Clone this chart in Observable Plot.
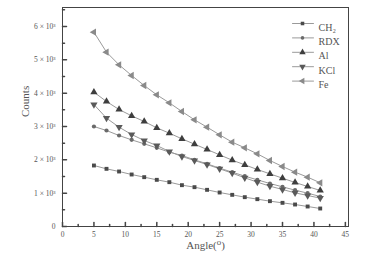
<!DOCTYPE html>
<html>
<head>
<meta charset="utf-8">
<script src="https://cdn.jsdelivr.net/npm/d3@7"></script>
<script src="https://cdn.jsdelivr.net/npm/@observablehq/plot@0.6"></script>
<style>
  html, body { margin: 0; padding: 0; background: #fff; }
  #chart { width: 373px; height: 257px; }
</style>
</head>
<body>
<div id="chart"></div>
<script>
// ---- data ----
const angles = [5, 7, 9, 11, 13, 15, 17, 19, 21, 23, 25, 27, 29, 31, 33, 35, 37, 39, 41];
const seriesNames = ["CH₂", "RDX", "Al", "KCl", "Fe"];
const ch2 = [1830, 1730, 1650, 1560, 1480, 1400, 1330, 1240, 1180, 1100, 1020, 950, 880, 820, 760, 710, 660, 600, 540];
const rdx = [3000, 2880, 2730, 2600, 2480, 2360, 2230, 2130, 2000, 1880, 1750, 1630, 1510, 1400, 1290, 1190, 1090, 1000, 900];
const al  = [4030, 3750, 3510, 3320, 3150, 2960, 2800, 2630, 2470, 2310, 2150, 1990, 1850, 1710, 1580, 1450, 1320, 1200, 1080];
const kcl = [3660, 3250, 2980, 2760, 2580, 2430, 2250, 2100, 1980, 1860, 1730, 1600, 1460, 1330, 1210, 1110, 1010, 930, 850];
const fe  = [5830, 5230, 4850, 4530, 4230, 3950, 3710, 3450, 3200, 2980, 2750, 2530, 2360, 2180, 1980, 1800, 1630, 1480, 1310];
const xTicks = [0, 5, 10, 15, 20, 25, 30, 35, 40, 45];
const xMinor = [2.5, 7.5, 12.5, 17.5, 22.5, 27.5, 32.5, 37.5, 42.5];
const yTicks = [0, 1000, 2000, 3000, 4000, 5000, 6000];
const yMinor = [500, 1500, 2500, 3500, 4500, 5500, 6500];
const xLabel = "Angle(⁰)";
const yLabel = "Counts";

// ---- symbols ----
const s3 = Math.sqrt(3);
const triDown = { draw(ctx, size) { const y = -Math.sqrt(size / (s3 * 3)); ctx.moveTo(0, -y * 2); ctx.lineTo(-s3 * y, y); ctx.lineTo(s3 * y, y); ctx.closePath(); } };
const triLeft = { draw(ctx, size) { const y = -Math.sqrt(size / (s3 * 3)); ctx.moveTo(y * 2, 0); ctx.lineTo(-y, -s3 * y); ctx.lineTo(-y, s3 * y); ctx.closePath(); } };
const tickShape = { draw(ctx, l) { ctx.moveTo(0, 0); ctx.lineTo(0, -l); } };

const valuesList = [ch2, rdx, al, kcl, fe];
const symbols = ["square", "circle", "triangle", triDown, triLeft];
const markerFill = ["#4a4a4a", "#6a6a6a", "#3e3e3e", "#5a5a5a", "#8a8a8a"];
const markerR = [2.2, 2.1, 2.7, 2.7, 2.7];
const legendR = [2.0, 1.8, 2.4, 2.4, 2.4];
const lineColor = "#9a9a9a";
const axisColor = "#444";
const textColor = "#555";
const font = "'Liberation Serif', 'DejaVu Serif', serif";

const table = [];
seriesNames.forEach((name, i) => angles.forEach((a, j) => table.push({series: name, idx: i, angle: a, count: valuesList[i][j]})));

const marks = [];
seriesNames.forEach((name, i) => {
  const rows = table.filter(d => d.idx === i);
  marks.push(Plot.line(rows, {x: "angle", y: "count", stroke: lineColor, strokeWidth: 1}));
  marks.push(Plot.dot(rows, {x: "angle", y: "count", symbol: () => symbols[i], r: markerR[i], fill: markerFill[i], stroke: "none"}));
});

// inward ticks
marks.push(Plot.vector(xTicks, {x: d => d, frameAnchor: "bottom", length: 4, rotate: 0, anchor: "start", shape: tickShape, stroke: axisColor}));
marks.push(Plot.vector(xMinor, {x: d => d, frameAnchor: "bottom", length: 2, rotate: 0, anchor: "start", shape: tickShape, stroke: axisColor}));
marks.push(Plot.vector(yTicks, {y: d => d, frameAnchor: "left", length: 4, rotate: 90, anchor: "start", shape: tickShape, stroke: axisColor}));
marks.push(Plot.vector(yMinor, {y: d => d, frameAnchor: "left", length: 2, rotate: 90, anchor: "start", shape: tickShape, stroke: axisColor}));

// axes (tick labels only)
marks.push(Plot.axisX({ticks: xTicks, tickSize: 0, tickPadding: 5, fontSize: 7.5, fill: textColor, label: null}));
marks.push(Plot.axisY({ticks: yTicks, tickSize: 0, tickPadding: 7, fontSize: 7.5, fill: textColor,
  tickFormat: d => d === 0 ? "0" : `${d / 1000} × 10³`, label: null}));
marks.push(Plot.frame({stroke: axisColor, strokeWidth: 1}));

// axis titles
marks.push(Plot.text([xLabel], {frameAnchor: "bottom", dy: 22, text: d => d, fontSize: 11, fill: textColor}));
marks.push(Plot.text([yLabel], {frameAnchor: "left", dx: -37, rotate: -90, text: d => d, fontSize: 11, fill: textColor}));

// legend (inside frame, top-right)
seriesNames.forEach((name, i) => {
  const dy = 16 + i * 14.4;
  marks.push(Plot.vector([name], {frameAnchor: "top-right", dx: -56, dy, length: 21, rotate: 90, anchor: "start", shape: tickShape, stroke: lineColor, strokeWidth: 1}));
  marks.push(Plot.dot([name], {frameAnchor: "top-right", dx: -46, dy, symbol: () => symbols[i], r: legendR[i], fill: markerFill[i], stroke: "none"}));
  marks.push(Plot.text([name], {frameAnchor: "top-right", dx: -30, dy, text: d => d, textAnchor: "start", fontSize: 10, fill: textColor}));
});

const chart = Plot.plot({
  width: 373,
  height: 257,
  marginLeft: 62,
  marginRight: 25,
  marginTop: 7,
  marginBottom: 31,
  style: {fontFamily: font, background: "#fff", color: textColor},
  x: {domain: [0, 45.5]},
  y: {domain: [0, 6570]},
  marks
});
document.getElementById("chart").appendChild(chart);
</script>
</body>
</html>
